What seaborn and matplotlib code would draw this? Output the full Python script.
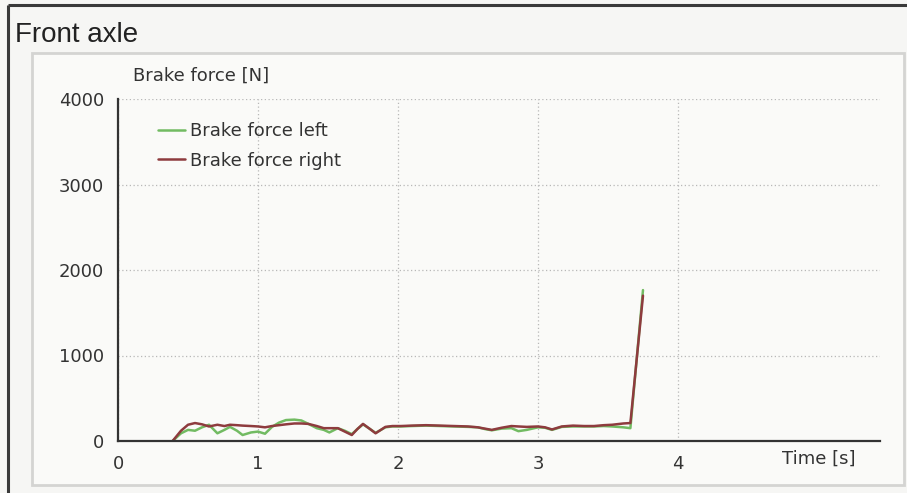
import matplotlib
matplotlib.use("Agg")
import matplotlib.pyplot as plt
from matplotlib.patches import Rectangle
from matplotlib.lines import Line2D
import seaborn as sns
import pandas as pd

# ---- data ----
time_s = [0.39, 0.45, 0.50, 0.55, 0.60, 0.65, 0.71, 0.76, 0.80, 0.85, 0.89, 0.95,
          1.00, 1.05, 1.10, 1.15, 1.20, 1.26, 1.31, 1.36, 1.42, 1.47, 1.51, 1.57,
          1.62, 1.67, 1.71, 1.75, 1.80, 1.84, 1.91, 1.96, 2.02, 2.10, 2.20, 2.30,
          2.40, 2.50, 2.57, 2.62, 2.67, 2.74, 2.81, 2.86, 2.92, 3.00, 3.05, 3.10,
          3.17, 3.25, 3.33, 3.40, 3.47, 3.53, 3.61, 3.66, 3.75]
force_left = [0, 90, 130, 120, 160, 190, 90, 130, 165, 120, 70, 100,
              110, 85, 165, 215, 245, 250, 240, 200, 150, 130, 100, 150,
              120, 80, 140, 195, 140, 95, 160, 170, 170, 175, 180, 175,
              170, 165, 160, 140, 125, 145, 150, 115, 130, 160, 155, 130,
              165, 170, 170, 170, 175, 170, 160, 150, 1765]
force_right = [0, 120, 190, 210, 195, 170, 190, 175, 190, 185, 180, 175,
               170, 160, 175, 185, 195, 205, 205, 200, 175, 150, 150, 150,
               110, 70, 140, 200, 140, 90, 165, 175, 175, 180, 185, 180,
               175, 170, 160, 145, 130, 155, 175, 170, 165, 170, 160, 135,
               170, 180, 175, 175, 185, 190, 205, 210, 1700]
series_names = ["Brake force left", "Brake force right"]
x_ticks = [0, 1, 2, 3, 4]
y_ticks = [0, 1000, 2000, 3000, 4000]

df = pd.concat([
    pd.DataFrame({"t": time_s, "F": force_left, "series": series_names[0]}),
    pd.DataFrame({"t": time_s, "F": force_right, "series": series_names[1]}),
])

sns.set_style("white")
plt.rcParams["font.family"] = ["DejaVu Sans"]

W, H = 907, 493
fig = plt.figure(figsize=(W / 100, H / 100), dpi=100)
fig.patch.set_facecolor("#f6f6f4")

def fx(px):
    return px / W

def fy(py):
    return (H - py) / H

# outer dark frame (top and left) and inner light panel
fig.add_artist(Line2D([fx(8), fx(930)], [fy(5), fy(5)], color="#3a3a3a", lw=2.2,
                      solid_capstyle="butt"))
fig.add_artist(Line2D([fx(8), fx(8)], [fy(5), fy(520)], color="#3a3a3a", lw=2.2,
                      solid_capstyle="butt"))
fig.add_artist(Rectangle((fx(32), fy(485)), fx(904) - fx(32), fy(53) - fy(485),
                         transform=fig.transFigure, facecolor="#fafaf8",
                         edgecolor="#d4d4d2", lw=2, zorder=0))

ax = fig.add_axes([fx(118), fy(441), fx(880) - fx(118), fy(99) - fy(441)])
ax.set_facecolor("none")

palette = {series_names[0]: "#72bb62", series_names[1]: "#8e3b3e"}
sns.lineplot(data=df, x="t", y="F", hue="series", hue_order=series_names,
             palette=palette, linewidth=1.8, ax=ax, legend=False)

ax.set_xlim(0, 5.443)
ax.set_ylim(0, 4000)
ax.set_xticks(x_ticks)
ax.set_yticks(y_ticks)
ax.set_xlabel("")
ax.set_ylabel("")
for s in ["top", "right"]:
    ax.spines[s].set_visible(False)
for s in ["left", "bottom"]:
    ax.spines[s].set_color("#333333")
    ax.spines[s].set_linewidth(1.6)
ax.tick_params(axis="both", direction="inout", length=8, width=1.3,
               colors="#333333", labelsize=13, labelcolor="#333333")
ax.tick_params(axis="y", pad=6)
ax.tick_params(axis="x", pad=6)
ax.grid(True, linestyle=(0, (1, 2)), color="#b8b8b8", linewidth=0.9)
ax.set_axisbelow(True)

handles = [Line2D([], [], color=palette[n], lw=1.8) for n in series_names]
fig.legend(handles, series_names, loc="upper left",
           bbox_to_anchor=(fx(158), fy(122)), frameon=False, fontsize=13,
           handlelength=1.5, handletextpad=0.25, labelspacing=0.65,
           borderpad=0, borderaxespad=0, labelcolor="#333333")

fig.text(fx(15), fy(42), "Front axle", fontsize=20, color="#222222",
         family=["Liberation Sans", "DejaVu Sans"], va="baseline", ha="left")
fig.text(fx(133), fy(76), "Brake force [N]", fontsize=13, color="#333333",
         va="center", ha="left")
fig.text(fx(782), fy(459), "Time [s]", fontsize=13, color="#333333",
         va="center", ha="left")

fig.savefig("out.png", dpi=100, facecolor=fig.get_facecolor())
